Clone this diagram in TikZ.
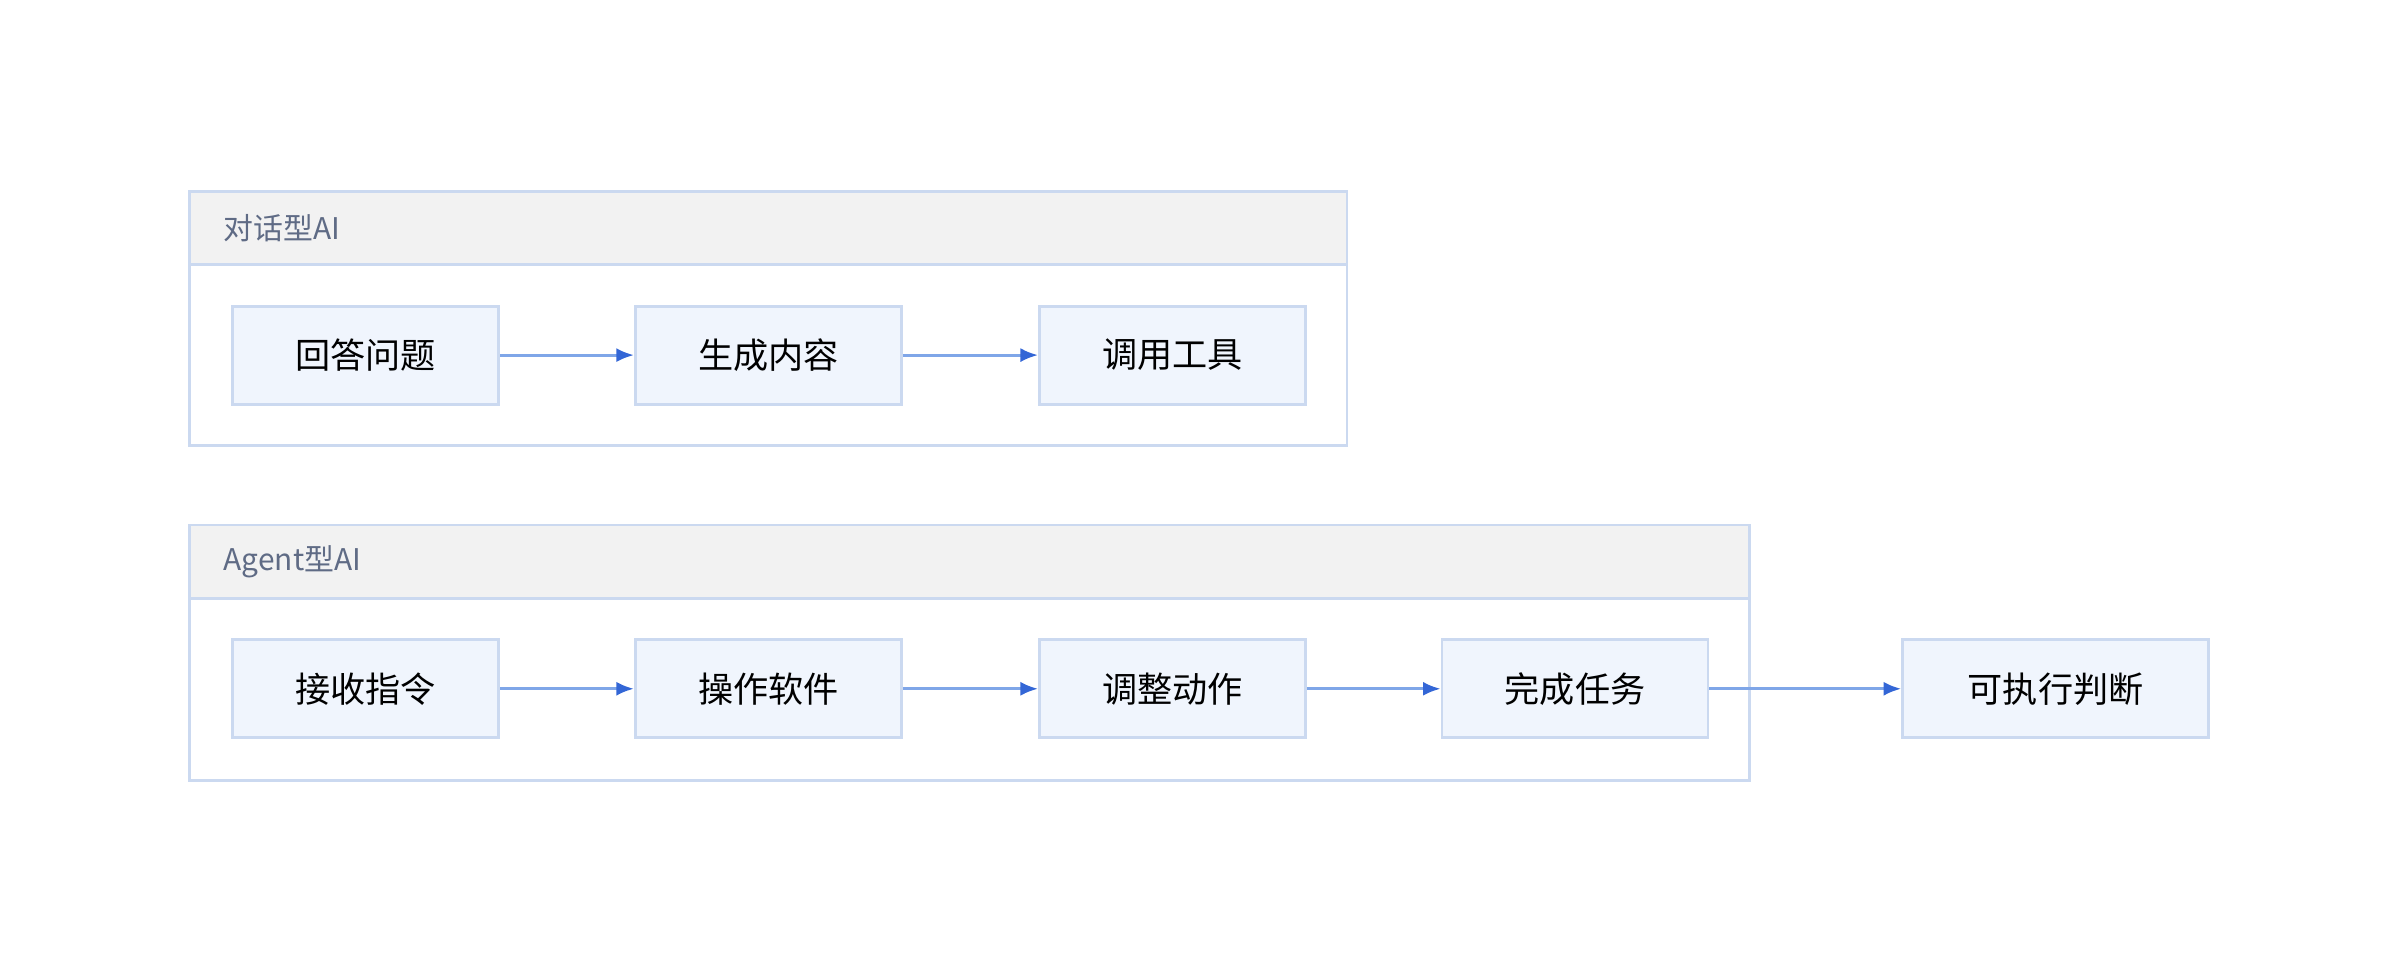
\documentclass[tikz,border=0pt]{standalone}
\usepackage{fontspec}
\setmainfont{Noto Sans CJK SC}
\usetikzlibrary{arrows.meta,positioning}
\definecolor{boxline}{HTML}{CBD9F0}
\definecolor{boxfill}{HTML}{F0F5FD}
\definecolor{headfill}{HTML}{F2F2F2}
\definecolor{headtext}{HTML}{5F6B85}
\definecolor{arrline}{HTML}{7FA6E8}
\definecolor{arrtip}{HTML}{3366D6}
\tikzset{
  stage/.style={draw=boxline,fill=boxfill,line width=0.8pt,minimum width=2.66cm,minimum height=0.98cm,inner sep=0pt,font=\fontsize{10}{12}\selectfont},
  group/.style={draw=boxline,line width=0.8pt},
  head/.style={draw=boxline,fill=headfill,line width=0.8pt},
  flow/.style={draw=arrline,line width=0.8pt,-{Latex[length=5pt,width=4pt,color=arrtip]}}
}
\begin{document}
\begin{tikzpicture}[x=0.015306cm,y=-0.015306cm]
\useasboundingbox (0,0) rectangle (1568,635);
% groups
\draw[group] (124,125) rectangle (880,291);
\draw[head] (124,125) rectangle (880,173);
\node[anchor=west,text=headtext,font=\fontsize{8.5}{10}\selectfont] (t1) at (138,149) {对话型AI};
\draw[group] (124,343) rectangle (1143,510);
\draw[head] (124,343) rectangle (1143,391);
\node[anchor=west,text=headtext,font=\fontsize{8.5}{10}\selectfont] (t2) at (138,367) {Agent型AI};
% steps
\node[stage] (a1) at (239,232) {回答问题};
\node[stage] (a2) at (502,232) {生成内容};
\node[stage] (a3) at (766,232) {调用工具};
\node[stage] (b1) at (239,450) {接收指令};
\node[stage] (b2) at (502,450) {操作软件};
\node[stage] (b3) at (766,450) {调整动作};
\node[stage] (b4) at (1029,450) {完成任务};
\node[stage,minimum width=3.06cm] (b5) at (1343,450) {可执行判断};
\draw[flow] (a1) -- (a2);
\draw[flow] (a2) -- (a3);
\draw[flow] (b1) -- (b2);
\draw[flow] (b2) -- (b3);
\draw[flow] (b3) -- (b4);
\draw[flow] (b4) -- (b5);
\end{tikzpicture}
\end{document}
